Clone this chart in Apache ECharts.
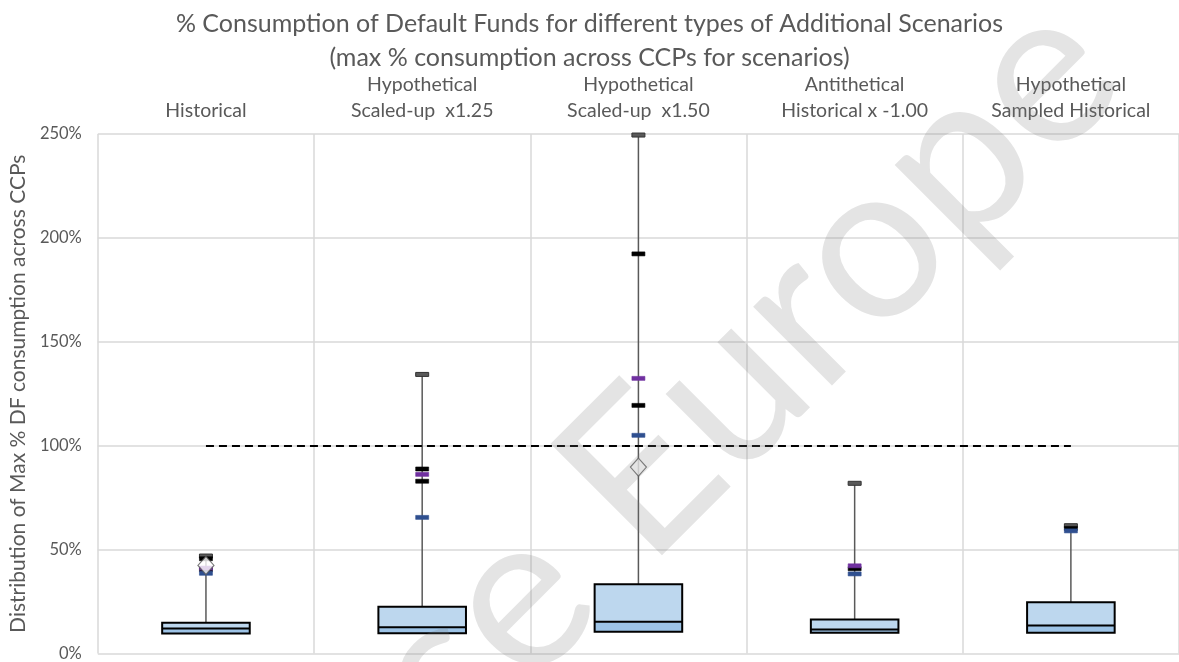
<!DOCTYPE html>
<html>
<head>
<meta charset="utf-8">
<script src="https://cdn.jsdelivr.net/npm/echarts@6/dist/echarts.min.js"></script>
<style>
  html, body { margin: 0; padding: 0; background: #fff; }
  #chart { width: 1179px; height: 662px; }
</style>
</head>
<body>
<div id="chart"></div>
<script>
// categories (two-line labels on the top axis)
const categories = [
  'Historical',
  'Hypothetical\nScaled-up  x1.25',
  'Hypothetical\nScaled-up  x1.50',
  'Antithetical\nHistorical x -1.00',
  'Hypothetical\nSampled Historical'
]

// box statistics, in % of default fund
const q1Values = [9.6, 9.7, 10.5, 10.0, 10.0]
const medianValues = [12.0, 12.6, 15.3, 11.6, 13.5]
const q3Values = [14.8, 22.5, 33.3, 16.4, 24.7]
const maxValues = [46.9, 134.3, 249.5, 81.9, 61.5]

// extra markers: [category index, value]
const meanValues = [[0, 42.4], [2, 89.7]]
const blackMarks = [[0, 45.6], [0, 40.3], [1, 88.8], [1, 82.9], [2, 192.3], [2, 119.4], [3, 40.8], [4, 60.2]]
const purpleMarks = [[0, 41.1], [1, 86.2], [2, 132.4], [3, 42.2]]
const blueMarks = [[0, 38.6], [1, 65.5], [2, 105.0], [3, 38.3], [4, 59.0]]

const threshold = 100
const yTicks = [0, 50, 100, 150, 200, 250]

const textColor = '#595959'
const font = 'Lato, "Open Sans", sans-serif'

const boxData = categories.map((c, i) => [i, q1Values[i], medianValues[i], q3Values[i], maxValues[i]])

function renderBox(params, api) {
  const x = api.value(0)
  const lo = api.coord([x, api.value(1)])
  const med = api.coord([x, api.value(2)])
  const hi = api.coord([x, api.value(3)])
  const top = api.coord([x, api.value(4)])
  const w = api.size([1, 0])[0] * 0.405
  const cx = lo[0]
  const left = cx - w / 2
  return {
    type: 'group',
    children: [
      {
        type: 'line',
        shape: { x1: cx, y1: hi[1], x2: cx, y2: top[1] },
        style: { stroke: '#595959', lineWidth: 1.5 }
      },
      {
        type: 'rect',
        shape: { x: left, y: hi[1], width: w, height: med[1] - hi[1] },
        style: { fill: '#bdd7ee' }
      },
      {
        type: 'rect',
        shape: { x: left, y: med[1], width: w, height: lo[1] - med[1] },
        style: { fill: '#9dc3e6' }
      },
      {
        type: 'rect',
        shape: { x: left, y: hi[1], width: w, height: lo[1] - hi[1] },
        style: { fill: null, stroke: '#000', lineWidth: 2 }
      },
      {
        type: 'line',
        shape: { x1: left, y1: med[1], x2: left + w, y2: med[1] },
        style: { stroke: '#000', lineWidth: 2 }
      },
      {
        type: 'rect',
        shape: { x: cx - 6.5, y: top[1] - 2, width: 13, height: 4 },
        style: { fill: '#595959', stroke: '#333', lineWidth: 1 }
      }
    ]
  }
}

function markSeries(name, data, color) {
  return {
    name: name,
    type: 'scatter',
    data: data,
    symbol: 'rect',
    symbolSize: [13, 4],
    itemStyle: { color: color, borderColor: color, borderWidth: 0.5, opacity: 1 },
    z: 5,
    silent: true
  }
}

const chart = echarts.init(document.getElementById('chart'))

chart.setOption({
  animation: false,
  title: {
    text: '% Consumption of Default Funds for different types of Additional Scenarios\n(max % consumption across CCPs for scenarios)',
    left: 'center',
    top: 2,
    textStyle: { fontFamily: font, fontSize: 25, fontWeight: 'normal', color: textColor, lineHeight: 34 }
  },
  grid: { left: 97, right: -7, top: 134, bottom: 5 },
  xAxis: {
    type: 'category',
    position: 'top',
    data: categories,
    axisLine: { show: false },
    axisTick: { show: false },
    axisLabel: { fontFamily: font, fontSize: 19.5, color: textColor, lineHeight: 26, margin: 10 },
    splitLine: { show: true, lineStyle: { color: '#d9d9d9', width: 1.5 } }
  },
  yAxis: {
    type: 'value',
    min: yTicks[0],
    max: yTicks[yTicks.length - 1],
    interval: 50,
    name: 'Distribution of Max % DF consumption across CCPs',
    nameLocation: 'middle',
    nameGap: 68,
    nameTextStyle: { fontFamily: font, fontSize: 21, color: textColor },
    axisLine: { show: false },
    axisTick: { show: false },
    axisLabel: { formatter: '{value}%', fontFamily: font, fontSize: 16.5, color: textColor, margin: 16 },
    splitLine: { lineStyle: { color: '#d9d9d9', width: 1.5 } }
  },
  graphic: [{
    type: 'text',
    x: 745,
    y: 372,
    rotation: Math.PI / 4,
    z: 100,
    silent: true,
    style: {
      text: 'se Europe',
      font: '220px ' + font,
      fill: 'rgba(120,120,120,0.2)',
      align: 'center',
      verticalAlign: 'middle'
    }
  }],
  series: [
    {
      name: 'box',
      type: 'custom',
      renderItem: renderBox,
      data: boxData,
      encode: { x: 0, y: [1, 2, 3, 4] },
      z: 3,
      silent: true,
      markLine: {
        silent: true,
        symbol: 'none',
        label: { show: false },
        lineStyle: { color: '#000', type: [8, 5], width: 2 },
        data: [[{ coord: [0, threshold] }, { coord: [categories.length - 1, threshold] }]]
      }
    },
    markSeries('black', blackMarks, '#000000'),
    markSeries('purple', purpleMarks, '#7030a0'),
    markSeries('blue', blueMarks, '#2f4f8f'),
    {
      name: 'mean',
      type: 'scatter',
      data: meanValues,
      symbol: 'diamond',
      symbolSize: [16, 18],
      itemStyle: { color: '#fff', borderColor: '#595959', borderWidth: 1.2 },
      z: 6,
      silent: true
    }
  ]
})
</script>
</body>
</html>
